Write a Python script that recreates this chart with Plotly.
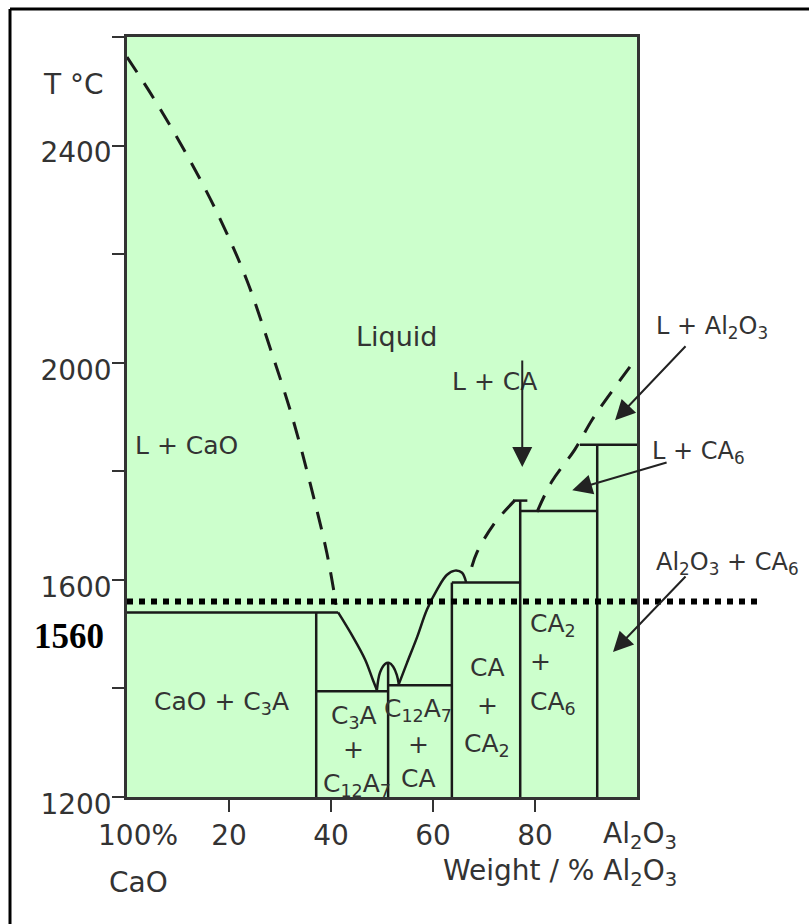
import plotly.graph_objects as go

# ---------------- data ----------------
x_range = [0, 100]
y_range = [1200, 2600]
y_tick_vals = [1200, 1400, 1600, 1800, 2000, 2200, 2400, 2600]
y_tick_text = ["1200", "", "1600", "", "2000", "", "2400", ""]
x_tick_vals = [20, 40, 60, 80]
x_tick_text = ["20", "40", "60", "80"]

# dashed liquidus (CaO side)
liq_cao_x = [0, 5.1, 11.8, 18.2, 23.5, 28.0, 32.4, 35.9, 39.2, 41.0]
liq_cao_t = [2563, 2489, 2382, 2266, 2152, 2029, 1900, 1778, 1649, 1554]
# dashed liquidus (CA -> CA2)
liq_ca2_x = [67.6, 68.6, 71.8, 76.1]
liq_ca2_t = [1624, 1650, 1701, 1747]
# dashed liquidus (CA6 / Al2O3)
liq_al_x = [80.4, 83.3, 87.8, 91.2, 94.3, 100]
liq_al_t = [1725, 1781, 1840, 1895, 1937, 2010]

# solid liquidus curves
c3a_liq_x = [41.4, 44.3, 46.7, 48.2, 49.0]
c3a_liq_t = [1540, 1495, 1453, 1416, 1397]
c12_liq_x = [49.0, 49.6, 50.6, 51.4, 52.2, 52.9, 53.3]
c12_liq_t = [1397, 1429, 1445, 1447, 1440, 1425, 1408]
ca_liq_x = [53.3, 54.9, 56.9, 58.8, 60.8, 62.7, 64.3, 65.7, 66.5]
ca_liq_t = [1408, 1447, 1495, 1545, 1582, 1609, 1617, 1613, 1595]

# straight phase boundaries: (x0, t0, x1, t1)
bound_x0 = [0, 37.1, 51.2, 63.7, 77.1, 37.1, 51.2, 63.7, 77.1, 75.7, 92.2, 88.8]
bound_t0 = [1540, 1200, 1200, 1200, 1200, 1395, 1406, 1595, 1727, 1746, 1200, 1849]
bound_x1 = [41.4, 37.1, 51.2, 63.7, 77.1, 51.2, 63.7, 77.1, 92.2, 78.5, 92.2, 100]
bound_t1 = [1540, 1540, 1445, 1595, 1746, 1395, 1406, 1595, 1727, 1746, 1849, 1849]

ref_temp = 1560
ref_label = "1560"

# labels inside the diagram (data coordinates)
label_text = ["Liquid", "L + CaO", "L + CA", "CaO + C<sub>3</sub>A",
              "C<sub>3</sub>A", "+", "C<sub>12</sub>A<sub>7</sub>",
              "C<sub>12</sub>A<sub>7</sub>", "+", "CA",
              "CA", "+", "CA<sub>2</sub>",
              "CA<sub>2</sub>", "+", "CA<sub>6</sub>"]
label_x = [52.9, 11.6, 72.0, 18.6,
           44.5, 44.5, 45.0,
           57.1, 57.1, 57.1,
           70.6, 70.6, 70.6,
           78.6, 78.6, 78.6]
label_t = [2049, 1848, 1966, 1373,
           1347, 1287, 1222,
           1360, 1296, 1235,
           1438, 1368, 1296,
           1517, 1449, 1373]
label_size = [27, 25, 25, 25] + [25] * 12
label_anchor = ["center"] * 13 + ["left"] * 3

# labels to the right of the diagram (x as fraction of plot width, y in data units)
side_text = ["L + Al<sub>2</sub>O<sub>3</sub>", "L + CA<sub>6</sub>",
             "Al<sub>2</sub>O<sub>3</sub> + CA<sub>6</sub>"]
side_xfrac = [1.147, 1.120, 1.178]
side_t = [2064, 1834, 1631]

# arrows: head (x, t), tail (x, t)
arrow_hx = [77.5, 95.7, 87.3, 95.3]
arrow_ht = [1808, 1894, 1765, 1467]
arrow_tx = [77.5, 109.8, 106.1, 109.8]
arrow_tt = [2007, 2033, 1817, 1609]

# axis texts (fractions of plot area)
axis_text = ["100%", "Al<sub>2</sub>O<sub>3</sub>", "CaO",
             "Weight / % Al<sub>2</sub>O<sub>3</sub>", "T \u00b0C"]
axis_xfrac = [0.022, 1.006, 0.022, 0.849, -0.104]
axis_yfrac = [-0.050, -0.050, -0.113, -0.0987, 0.937]

FONT = "DejaVu Sans"
TXT = "#333333"
LINE = "#1a1a1a"

fig = go.Figure()

def add_line(xs, ts, dash=None, shape="linear", width=2.5):
    fig.add_trace(go.Scatter(x=xs, y=ts, mode="lines", hoverinfo="skip",
                             showlegend=False,
                             line=dict(color=LINE, width=width, dash=dash, shape=shape)))

add_line(liq_cao_x, liq_cao_t, dash="18px,13px", shape="spline", width=3)
add_line(liq_ca2_x, liq_ca2_t, dash="18px,13px", shape="spline", width=3)
add_line(liq_al_x, liq_al_t, dash="18px,13px", shape="spline", width=3)
add_line(c3a_liq_x, c3a_liq_t, shape="spline")
add_line(c12_liq_x, c12_liq_t, shape="spline")
add_line(ca_liq_x, ca_liq_t, shape="spline")
for x0, t0, x1, t1 in zip(bound_x0, bound_t0, bound_x1, bound_t1):
    add_line([x0, x1], [t0, t1])

shapes = []
# reference dotted line at 1560 (extends beyond the plot)
shapes.append(dict(type="line", xref="paper", yref="y", x0=0, x1=1.245,
                   y0=ref_temp, y1=ref_temp,
                   line=dict(color="black", width=6, dash="6px,6px")))
# outer frame (top and left visible)
shapes.append(dict(type="line", xref="paper", yref="paper", x0=-0.2294, x1=1.4,
                   y0=1.0368, y1=1.0368, line=dict(color="black", width=3)))
shapes.append(dict(type="line", xref="paper", yref="paper", x0=-0.2294, x1=-0.2294,
                   y0=1.0368, y1=-0.2, line=dict(color="black", width=3)))

annotations = []
for t, x, y, a, s in zip(label_text, label_x, label_t, label_anchor, label_size):
    annotations.append(dict(text=t, x=x, y=y, xref="x", yref="y", showarrow=False,
                            xanchor=a, yanchor="middle",
                            font=dict(family=FONT, size=s, color=TXT)))
for t, x, y in zip(side_text, side_xfrac, side_t):
    annotations.append(dict(text=t, x=x, y=y, xref="paper", yref="y", showarrow=False,
                            xanchor="center", yanchor="middle",
                            font=dict(family=FONT, size=24, color=TXT)))
for hx, ht, tx, tt in zip(arrow_hx, arrow_ht, arrow_tx, arrow_tt):
    annotations.append(dict(text="", x=hx, y=ht, xref="x", yref="y",
                            ax=tx, ay=tt, axref="x", ayref="y", showarrow=True,
                            arrowhead=2, arrowsize=2, arrowwidth=2,
                            arrowcolor="#222222", standoff=0, startstandoff=0))
for t, x, y in zip(axis_text, axis_xfrac, axis_yfrac):
    annotations.append(dict(text=t, x=x, y=y, xref="paper", yref="paper", showarrow=False,
                            xanchor="center", yanchor="middle",
                            font=dict(family=FONT, size=28, color=TXT)))
annotations.append(dict(text="<b>" + ref_label + "</b>", x=-0.114, y=1495,
                        xref="paper", yref="y", showarrow=False,
                        xanchor="center", yanchor="middle",
                        font=dict(family="Liberation Serif", size=35, color="black")))

fig.update_layout(
    width=809, height=924,
    margin=dict(l=127, r=172, t=37, b=127),
    paper_bgcolor="white", plot_bgcolor="#ccffcc",
    shapes=shapes, annotations=annotations,
    xaxis=dict(range=x_range, showgrid=False, zeroline=False,
               showline=True, mirror=True, linecolor="#333333", linewidth=2.5,
               tickmode="array", tickvals=x_tick_vals, ticktext=x_tick_text,
               ticks="outside", ticklen=12, tickwidth=2, tickcolor="#333333",
               ticklabelstandoff=0,
               tickfont=dict(family=FONT, size=28, color=TXT)),
    yaxis=dict(range=y_range, showgrid=False, zeroline=False,
               showline=True, mirror=True, linecolor="#333333", linewidth=2.5,
               tickmode="array", tickvals=y_tick_vals, ticktext=y_tick_text,
               ticks="outside", ticklen=12, tickwidth=2, tickcolor="#333333",
               ticklabelshift=7, ticklabelstandoff=-5,
               tickfont=dict(family=FONT, size=28, color=TXT)),
)

fig.write_html("out.html")
